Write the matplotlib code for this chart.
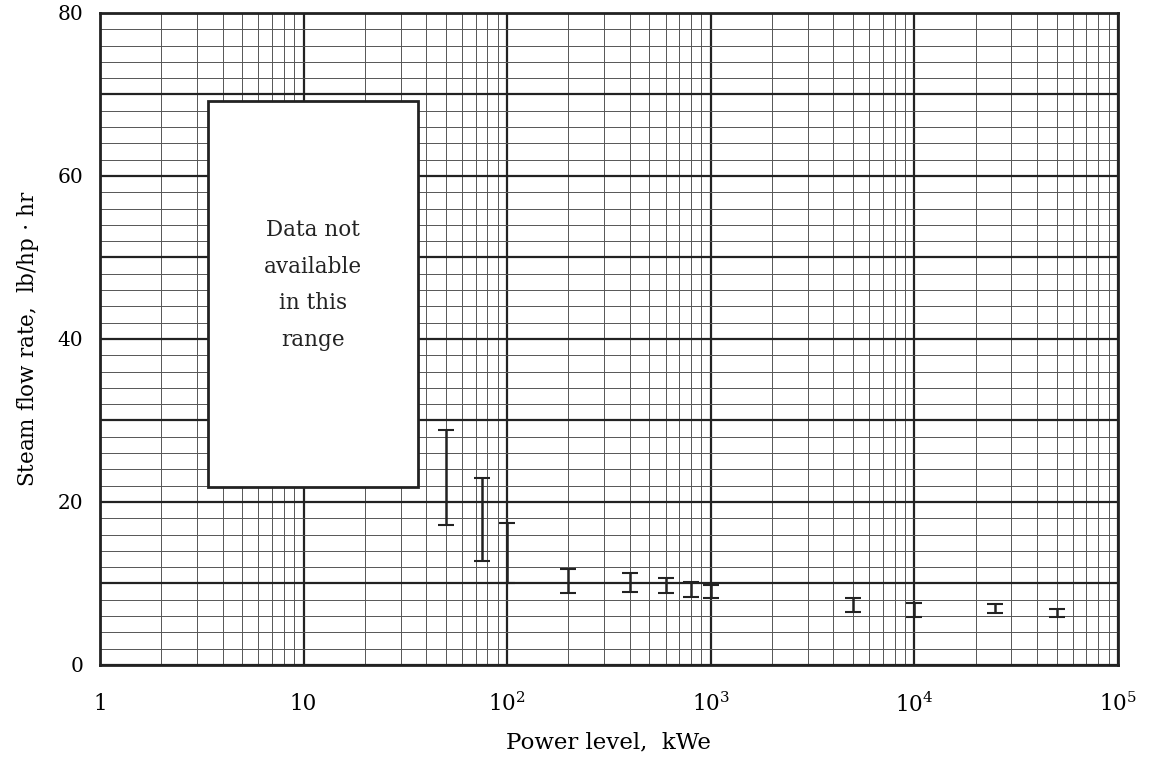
import matplotlib
matplotlib.use("Agg")
import matplotlib.pyplot as plt
from matplotlib.patches import Rectangle
from matplotlib.ticker import LogLocator, FixedLocator, NullFormatter
import numpy as np

# power level (kWe) and the range of steam flow rate read at each
power = [50, 75, 100, 200, 400, 600, 800, 1000, 5000, 10000, 25000, 50000]
rate_low = [17.2, 12.8, 10.0, 8.8, 8.9, 8.8, 8.3, 8.2, 6.5, 5.9, 6.4, 5.9]
rate_high = [28.8, 22.9, 17.4, 11.8, 11.3, 10.7, 10.2, 9.8, 8.2, 7.6, 7.5, 6.9]

# region with no data
gap_x = [3.4, 36.5]
gap_y = [21.8, 69.2]
gap_text = "Data not\navailable\nin this\nrange"

x_ticks = [1, 10, 100, 1000, 10000, 100000]
x_labels = ["1", "10", "$10^2$", "$10^3$", "$10^4$", "$10^5$"]
y_ticks = [0, 10, 20, 30, 40, 50, 60, 70, 80]
y_labels = ["0", "", "20", "", "40", "", "60", "", "80"]

plt.rcParams["font.family"] = ["DejaVu Serif"]
plt.rcParams["mathtext.fontset"] = "dejavuserif"

fig = plt.figure(figsize=(11.62, 7.6), dpi=100)
ax = fig.add_axes([0.086, 0.125, 0.876, 0.858])

ax.set_xscale("log")
ax.set_xlim(1, 1e5)
ax.set_ylim(0, 80)

ax.set_xticks(x_ticks)
ax.set_xticklabels(x_labels)
ax.xaxis.set_minor_locator(LogLocator(base=10, subs=np.arange(2, 10)))
ax.xaxis.set_minor_formatter(NullFormatter())
ax.set_yticks(y_ticks)
ax.set_yticklabels(y_labels)
ax.yaxis.set_minor_locator(FixedLocator(np.arange(0, 81, 2)))

ax.tick_params(which="both", length=0)
ax.tick_params(axis="x", pad=20, labelsize=15.5)
ax.tick_params(axis="y", pad=12, labelsize=14.5)

ax.set_axisbelow(True)
ax.grid(which="major", color="#222222", linewidth=1.6)
ax.grid(which="minor", color="#555555", linewidth=0.7)
for s in ax.spines.values():
    s.set_linewidth(2)
    s.set_color("#222222")

# blank box for the range with no data
box = Rectangle((gap_x[0], gap_y[0]), gap_x[1] - gap_x[0], gap_y[1] - gap_y[0],
                facecolor="white", edgecolor="#222222", linewidth=2, zorder=2)
ax.add_patch(box)
ax.text(np.sqrt(gap_x[0] * gap_x[1]), 46.6, gap_text, ha="center", va="center",
        fontsize=15.5, linespacing=1.85, color="#222222", zorder=3)

# ranges as error bars
lo = np.array(rate_low)
hi = np.array(rate_high)
mid = (lo + hi) / 2
half = (hi - lo) / 2
ax.errorbar(power, mid, yerr=half, fmt="none", ecolor="#222222",
            elinewidth=1.8, capsize=6, capthick=1.5, zorder=4)

ax.set_xlabel("Power level,  kWe", fontsize=16.5, labelpad=10)
ax.set_ylabel("Steam flow rate,  lb/hp $\\cdot$ hr", fontsize=15.5, labelpad=12)

fig.savefig("out.png", dpi=100)
